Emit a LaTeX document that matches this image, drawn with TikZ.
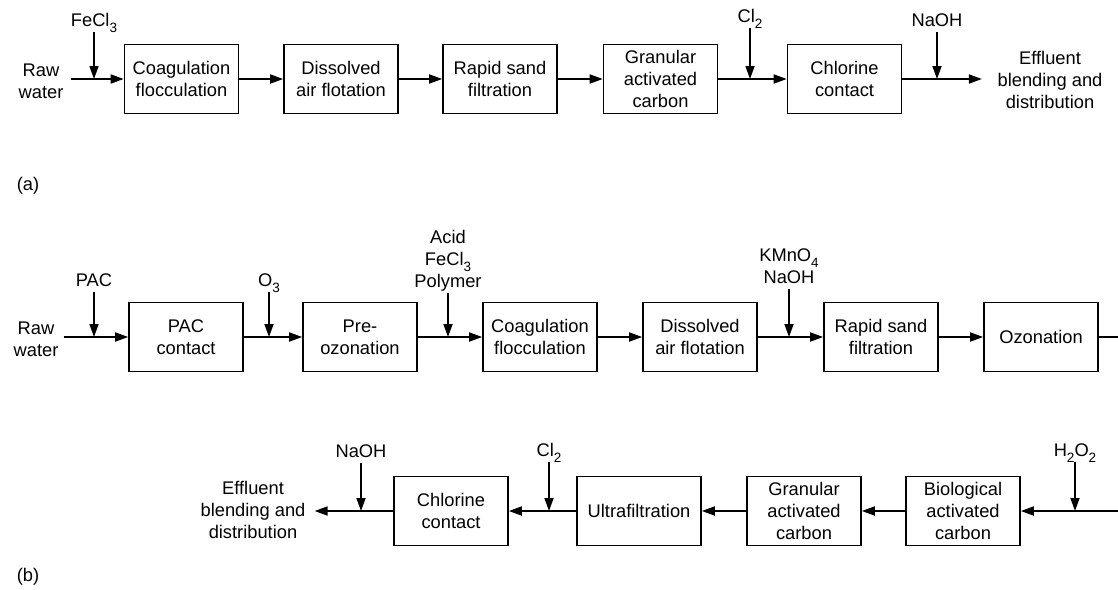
\documentclass[tikz,border=0pt]{standalone}
\usepackage{fontspec}
\setmainfont{Liberation Sans}
\usetikzlibrary{arrows.meta}
\newcommand{\sbs}[1]{\raisebox{-0.3em}{\fontsize{13.5}{14}\selectfont #1}}
\tikzset{
  box/.style={draw, line width=1.6pt, minimum width=114pt, minimum height=69pt, align=center, inner sep=2pt},
  flow/.style={line width=1.7pt, -{Triangle[length=13pt,width=9pt]}},
  plain/.style={line width=1.7pt},
  lbl/.style={align=center, inner sep=1pt, text depth=4pt, anchor=south},
  txt/.style={align=center, inner ysep=1pt}
}
\begin{document}
\begin{tikzpicture}[x=1pt, y=-1pt, every node/.style={font=\fontsize{18.3}{22}\selectfont}]
\useasboundingbox (0,0) rectangle (1118,589);

% ---------------- (a) ----------------
\node[txt, inner xsep=7pt] (rawa) at (41,81) {Raw\\water};
\node[box] (a1) at (181.5,79) {Coagulation\\flocculation};
\node[box] (a2) at (341,79) {Dissolved\\air flotation};
\node[box] (a3) at (500,79) {Rapid sand\\filtration};
\node[box] (a4) at (660.5,79) {Granular\\activated\\carbon};
\node[box] (a5) at (844.5,79) {Chlorine\\contact};
\node[txt, inner xsep=15.5pt] (effa) at (1050,80) {Effluent\\blending and\\distribution};

\node[lbl] (fea) at (94,32) {FeCl\sbs{3}};
\node[lbl] (cla) at (750,28) {Cl\sbs{2}};
\node[lbl] (naa) at (937,32) {NaOH};
\coordinate (ja1) at (94,79);
\coordinate (ja2) at (750,79);
\coordinate (ja3) at (937,79);

\draw[flow] (rawa.east |- a1) -- (a1.west);
\draw[flow] (a1) -- (a2);
\draw[flow] (a2) -- (a3);
\draw[flow] (a3) -- (a4);
\draw[flow] (a4) -- (a5);
\draw[flow] (a5.east) -- (a5.east -| effa.west);
\draw[flow] (fea.south) -- (ja1);
\draw[flow] (cla.south) -- (ja2);
\draw[flow] (naa.south) -- (ja3);

\node[inner sep=0pt] (tagA) at (28,186) {(a)};

% ---------------- (b) row 1 ----------------
\node[txt, inner xsep=5pt] (rawb) at (36,339) {Raw\\water};
\node[box] (b1) at (186,337) {PAC\\contact};
\node[box] (b2) at (360,337) {Pre-\\ozonation};
\node[box] (b3) at (540,337) {Coagulation\\flocculation};
\node[box] (b4) at (700,337) {Dissolved\\air flotation};
\node[box] (b5) at (881,337) {Rapid sand\\filtration};
\node[box] (b6) at (1041,337) {Ozonation};
\coordinate (r1) at (1118,337);

\node[lbl] (pac) at (94,292) {PAC};
\node[lbl] (o3) at (269,292) {O\sbs{3}};
\node[lbl] (acid) at (448,293) {Acid\\FeCl\sbs{3}\\Polymer};
\node[lbl] (kmn) at (789,289) {KMnO\sbs{4}\\NaOH};
\coordinate (jb1) at (94,337);
\coordinate (jb2) at (269,337);
\coordinate (jb3) at (448,337);
\coordinate (jb4) at (789,337);

\draw[flow] (rawb.east |- b1) -- (b1.west);
\draw[flow] (b1) -- (b2);
\draw[flow] (b2) -- (b3);
\draw[flow] (b3) -- (b4);
\draw[flow] (b4) -- (b5);
\draw[flow] (b5) -- (b6);
\draw[plain] (b6.east) -- (r1);
\draw[flow] (pac.south) -- (jb1);
\draw[flow] (o3.south) -- (jb2);
\draw[flow] (acid.south) -- (jb3);
\draw[flow] (kmn.south) -- (jb4);

% ---------------- (b) row 2 ----------------
\coordinate (r2) at (1118,511);
\node[box] (c4) at (963,511) {Biological\\activated\\carbon};
\node[box] (c3) at (804,511) {Granular\\activated\\carbon};
\node[box, minimum width=124pt] (c2) at (639,511) {Ultrafiltration};
\node[box] (c1) at (451,511) {Chlorine\\contact};
\node[txt, inner xsep=9pt] (effb) at (253,510) {Effluent\\blending and\\distribution};

\node[lbl] (h2o2) at (1075,462) {H\sbs{2}O\sbs{2}};
\node[lbl] (clb) at (549,462) {Cl\sbs{2}};
\node[lbl] (nab) at (361,463) {NaOH};
\coordinate (jc1) at (1075,511);
\coordinate (jc2) at (549,511);
\coordinate (jc3) at (361,511);

\draw[flow] (r2) -- (c4.east);
\draw[flow] (c4) -- (c3);
\draw[flow] (c3) -- (c2);
\draw[flow] (c2) -- (c1);
\draw[flow] (c1.west) -- (c1.west -| effb.east);
\draw[flow] (h2o2.south) -- (jc1);
\draw[flow] (clb.south) -- (jc2);
\draw[flow] (nab.south) -- (jc3);

\node[inner sep=0pt] (tagB) at (28,577) {(b)};
\end{tikzpicture}
\end{document}
